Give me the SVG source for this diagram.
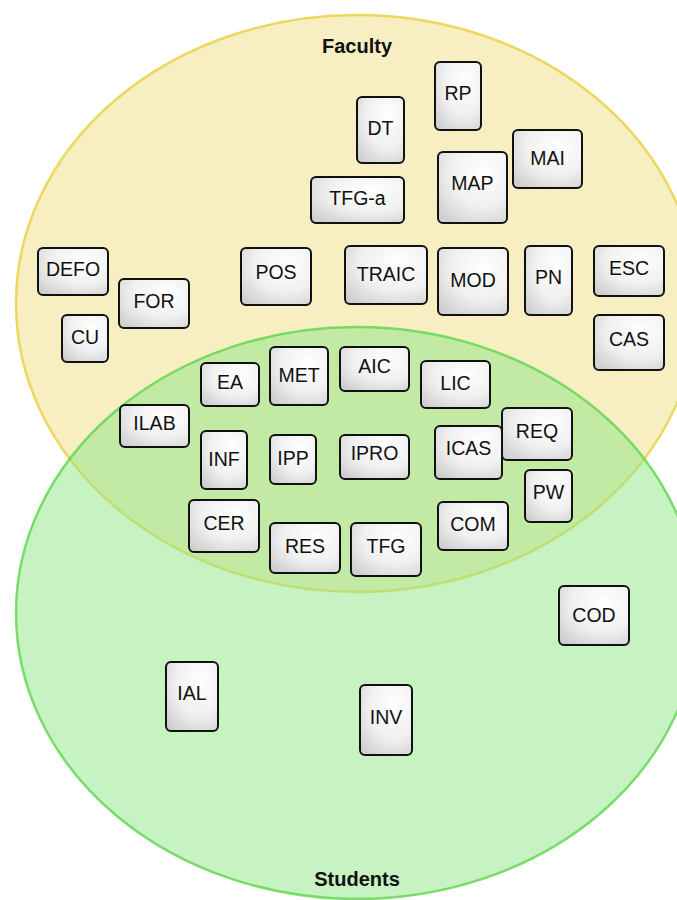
<svg xmlns="http://www.w3.org/2000/svg" width="677" height="900" viewBox="0 0 677 900">
<defs>
<radialGradient id="g" cx="0.65" cy="0.3" r="0.85">
<stop offset="0" stop-color="#ffffff"/>
<stop offset="0.55" stop-color="#f0f0f0"/>
<stop offset="1" stop-color="#cfcfcf"/>
</radialGradient>
</defs>
<style>
.n rect{fill:url(#g);stroke:#111;stroke-width:2}
.n text{font-family:"Liberation Sans",Arial,sans-serif;font-size:19.5px;fill:#111;text-anchor:middle}
.lbl{font-family:"Liberation Sans",Arial,sans-serif;font-size:20px;font-weight:bold;fill:#111;text-anchor:middle}
</style>
<rect width="677" height="900" fill="#ffffff"/>
<g id="sets">
<ellipse id="faculty" cx="357" cy="303.5" rx="341" ry="288.5" fill="#f2e49a" fill-opacity="0.6" stroke="#e8cf3e" stroke-opacity="0.8" stroke-width="2.5"/>
<ellipse id="students" cx="357" cy="613" rx="341" ry="286" fill="#90e585" fill-opacity="0.5" stroke="#5fd54e" stroke-opacity="0.8" stroke-width="2.5"/>
<text class="lbl" x="357" y="53">Faculty</text>
<text class="lbl" x="357" y="886">Students</text>
</g>
<g id="connectors"></g>
<g id="RP" class="n"><rect x="435" y="62" width="46" height="68" rx="5"/><text x="458" y="100">RP</text></g>
<g id="DT" class="n"><rect x="357" y="97" width="47" height="66" rx="5"/><text x="380.5" y="135">DT</text></g>
<g id="MAI" class="n"><rect x="513" y="130" width="69" height="58" rx="5"/><text x="547.5" y="165">MAI</text></g>
<g id="MAP" class="n"><rect x="438" y="152" width="69" height="71" rx="5"/><text x="472.5" y="190">MAP</text></g>
<g id="TFG-a" class="n"><rect x="311" y="177" width="93" height="46" rx="5"/><text x="357.5" y="205">TFG-a</text></g>
<g id="DEFO" class="n"><rect x="38" y="248" width="70" height="47" rx="5"/><text x="73" y="276">DEFO</text></g>
<g id="FOR" class="n"><rect x="119" y="279" width="70" height="49" rx="5"/><text x="154" y="308">FOR</text></g>
<g id="CU" class="n"><rect x="62" y="315" width="46" height="47" rx="5"/><text x="85" y="344">CU</text></g>
<g id="POS" class="n"><rect x="241" y="248" width="70" height="57" rx="5"/><text x="276" y="279">POS</text></g>
<g id="TRAIC" class="n"><rect x="345" y="246" width="82" height="58" rx="5"/><text x="386" y="281">TRAIC</text></g>
<g id="MOD" class="n"><rect x="438" y="248" width="70" height="67" rx="5"/><text x="473" y="287">MOD</text></g>
<g id="PN" class="n"><rect x="525" y="246" width="47" height="69" rx="5"/><text x="548.5" y="284">PN</text></g>
<g id="ESC" class="n"><rect x="594" y="246" width="70" height="50" rx="5"/><text x="629" y="275">ESC</text></g>
<g id="CAS" class="n"><rect x="594" y="315" width="70" height="55" rx="5"/><text x="629" y="346">CAS</text></g>
<g id="EA" class="n"><rect x="201" y="363" width="58" height="43" rx="5"/><text x="230" y="389">EA</text></g>
<g id="MET" class="n"><rect x="270" y="347" width="58" height="58" rx="5"/><text x="299" y="382">MET</text></g>
<g id="AIC" class="n"><rect x="340" y="347" width="69" height="44" rx="5"/><text x="374.5" y="373">AIC</text></g>
<g id="LIC" class="n"><rect x="421" y="361" width="69" height="47" rx="5"/><text x="455.5" y="390">LIC</text></g>
<g id="ILAB" class="n"><rect x="120" y="405" width="69" height="42" rx="5"/><text x="154.5" y="430">ILAB</text></g>
<g id="INF" class="n"><rect x="201" y="431" width="46" height="58" rx="5"/><text x="224" y="466">INF</text></g>
<g id="IPP" class="n"><rect x="270" y="435" width="46" height="49" rx="5"/><text x="293" y="465">IPP</text></g>
<g id="IPRO" class="n"><rect x="340" y="435" width="69" height="44" rx="5"/><text x="374.5" y="460">IPRO</text></g>
<g id="ICAS" class="n"><rect x="435" y="426" width="67" height="53" rx="5"/><text x="468.5" y="455">ICAS</text></g>
<g id="REQ" class="n"><rect x="502" y="408" width="70" height="52" rx="5"/><text x="537" y="438">REQ</text></g>
<g id="PW" class="n"><rect x="525" y="470" width="47" height="52" rx="5"/><text x="548.5" y="499">PW</text></g>
<g id="CER" class="n"><rect x="189" y="500" width="70" height="52" rx="5"/><text x="224" y="530">CER</text></g>
<g id="RES" class="n"><rect x="270" y="523" width="70" height="50" rx="5"/><text x="305" y="553">RES</text></g>
<g id="TFG" class="n"><rect x="351" y="523" width="70" height="53" rx="5"/><text x="386" y="553">TFG</text></g>
<g id="COM" class="n"><rect x="438" y="502" width="70" height="48" rx="5"/><text x="473" y="531">COM</text></g>
<g id="COD" class="n"><rect x="559" y="586" width="70" height="59" rx="5"/><text x="594" y="622">COD</text></g>
<g id="IAL" class="n"><rect x="166" y="662" width="52" height="69" rx="5"/><text x="192" y="700">IAL</text></g>
<g id="INV" class="n"><rect x="360" y="685" width="52" height="70" rx="5"/><text x="386" y="724">INV</text></g>
</svg>
